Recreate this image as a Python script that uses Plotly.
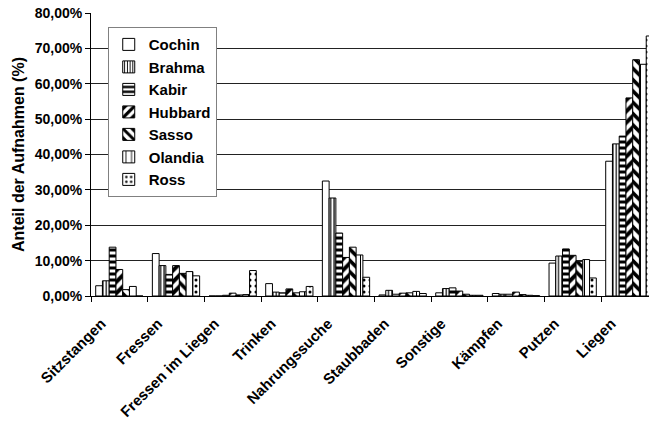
import plotly.graph_objects as go

categories = ["Sitzstangen", "Fressen", "Fressen im Liegen", "Trinken", "Nahrungssuche",
              "Staubbaden", "Sonstige", "Kämpfen", "Putzen", "Liegen"]
cochin = [2.9, 12.0, 0.0, 3.5, 32.5, 0.3, 0.9, 0.7, 9.3, 38.1]
brahma = [4.3, 8.6, 0.0, 1.1, 27.7, 1.6, 2.1, 0.5, 11.3, 43.0]
kabir = [13.8, 6.1, 0.2, 0.9, 17.8, 0.5, 2.3, 0.5, 13.3, 45.2]
hubbard = [7.5, 8.6, 0.8, 2.0, 10.9, 0.8, 1.4, 1.1, 11.5, 56.0]
sasso = [1.8, 6.4, 0.3, 0.9, 13.8, 0.9, 0.5, 0.4, 9.8, 66.8]
olandia = [2.7, 6.9, 0.4, 1.2, 11.6, 1.3, 0.2, 0.2, 10.3, 65.5]
ross = [0.0, 5.7, 7.2, 2.7, 5.3, 0.7, 0.2, 0.1, 5.1, 73.5]

series = [
    ("Cochin", cochin, "", 6, 0.0),
    ("Brahma", brahma, "|", 3.4, 0.35),
    ("Kabir", kabir, "-", 6, 0.5),
    ("Hubbard", hubbard, "/", 8, 0.5),
    ("Sasso", sasso, "\\", 8, 0.45),
    ("Olandia", olandia, "|", 7, 0.15),
    ("Ross", ross, ".", 6, 0.2),
]

font_family = "Liberation Sans, Arial, sans-serif"

fig = go.Figure()
for name, vals, shape, size, sol in series:
    pattern = dict(shape=shape, fgcolor="black", bgcolor="white", fillmode="replace")
    if shape:
        pattern.update(size=size, solidity=sol)
    fig.add_trace(go.Bar(
        name=name, x=categories, y=[v / 100 for v in vals],
        marker=dict(color="white", line=dict(color="black", width=1), pattern=pattern),
    ))

fig.update_layout(
    width=649, height=421,
    margin=dict(l=91, r=0, t=13, b=125),
    paper_bgcolor="white", plot_bgcolor="white",
    barmode="group", bargap=0.166, bargroupgap=0,
    separators=",.",
    font=dict(family=font_family, size=14, color="black", weight="bold"),
    showlegend=True,
    legend=dict(
        x=0.03, y=0.95, xanchor="left", yanchor="top",
        bgcolor="white", bordercolor="#808080", borderwidth=1,
        font=dict(family=font_family, size=15, color="black", weight="bold"),
        itemwidth=30,
    ),
    xaxis=dict(
        range=[-0.5, 9.347], showgrid=False,
        showline=True, linecolor="black", linewidth=1,
        ticks="outside", tickson="boundaries", ticklen=5, tickcolor="black",
        tickangle=-45, ticklabelstandoff=12, ticklabelshift=-18,
        tickfont=dict(family=font_family, size=15, color="black", weight="bold"),
    ),
    yaxis=dict(
        range=[0, 0.8], dtick=0.1, tickformat=".2%",
        showgrid=True, gridcolor="#222222", gridwidth=1,
        showline=True, linecolor="black", linewidth=1,
        ticks="outside", ticklen=5, tickcolor="black",
        tickfont=dict(family=font_family, size=14, color="black", weight="bold"),
        title=dict(text="Anteil der Aufnahmen (%)", standoff=6,
                   font=dict(family=font_family, size=16, color="black", weight="bold")),
        zeroline=False,
    ),
)

fig.write_html("out.html")
